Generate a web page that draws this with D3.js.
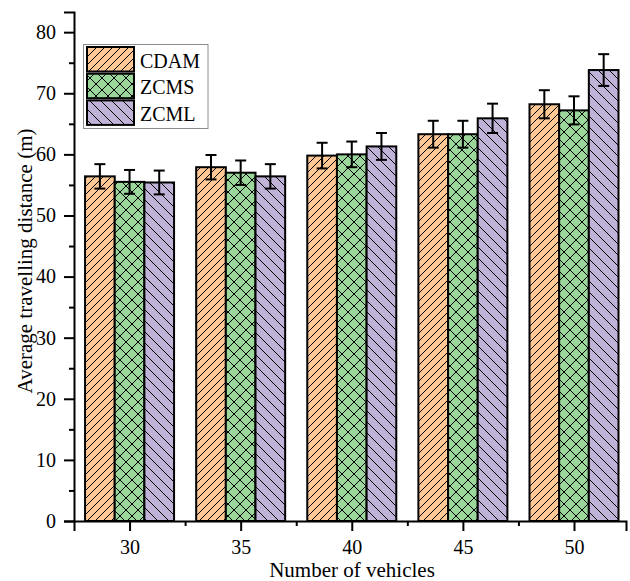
<!DOCTYPE html>
<html>
<head>
<meta charset="utf-8">
<script src="https://cdn.jsdelivr.net/npm/d3@7"></script>
<style>
  html, body { margin: 0; padding: 0; background: #fff; }
  svg text { font-family: "Liberation Serif", "Times New Roman", serif; fill: #000; }
</style>
</head>
<body>
<div id="chart"></div>
<script>
const vehicles = [30, 35, 40, 45, 50];
const seriesNames = ['CDAM', 'ZCMS', 'ZCML'];
const cdam = [56.4, 57.9, 59.8, 63.3, 68.2];
const zcms = [55.5, 57.0, 60.0, 63.3, 67.2];
const zcml = [55.4, 56.4, 61.3, 65.9, 73.8];
const cdamErr = [2.0, 2.0, 2.1, 2.2, 2.3];
const zcmsErr = [1.95, 2.0, 2.1, 2.2, 2.3];
const zcmlErr = [1.95, 2.0, 2.2, 2.4, 2.6];
const yTicks = [0, 10, 20, 30, 40, 50, 60, 70, 80];
const yMinor = [5, 15, 25, 35, 45, 55, 65, 75];
const xMinor = [32.5, 37.5, 42.5, 47.5];

const W = 630, H = 581;
const plotLeft = 74, plotRight = 626, plotTop = 12, plotBottom = 521;

const svg = d3.select('#chart').append('svg').attr('width', W).attr('height', H);

const x = d3.scaleLinear().domain([27.5, 52.34]).range([plotLeft, plotRight]);
const y = d3.scaleLinear().domain([0, 83.3]).range([plotBottom, plotTop]);
const inner = d3.scaleBand().domain(seriesNames).range([-44.5, 44.5]);

const fills = { CDAM: '#fdc895', ZCMS: '#9bd79b', ZCML: '#c1b2d8' };

// hatch patterns
const defs = svg.append('defs');
function hatch(id, color, size, dirs) {
  const p = defs.append('pattern').attr('id', id).attr('patternUnits', 'userSpaceOnUse')
    .attr('width', size).attr('height', size);
  p.append('rect').attr('width', size).attr('height', size).attr('fill', color);
  dirs.forEach(d => {
    const segs = d === '/'
      ? [[0, size, size, 0], [-size, size, 0, 0], [size, size * 2, size * 2, size]]
      : [[0, 0, size, size], [-size, 0, 0, size], [size, 0, size * 2, size]];
    segs.forEach(s => p.append('line').attr('x1', s[0]).attr('y1', s[1]).attr('x2', s[2]).attr('y2', s[3])
      .attr('stroke', '#000').attr('stroke-width', 1));
  });
}
hatch('pat-CDAM', fills.CDAM, 8, ['/']);
hatch('pat-ZCMS', fills.ZCMS, 12, ['/', '\\']);
hatch('pat-ZCML', fills.ZCML, 11, ['\\']);

const data = [];
vehicles.forEach((v, i) => {
  data.push({ v, s: 'CDAM', val: cdam[i], err: cdamErr[i] });
  data.push({ v, s: 'ZCMS', val: zcms[i], err: zcmsErr[i] });
  data.push({ v, s: 'ZCML', val: zcml[i], err: zcmlErr[i] });
});

// bars
svg.append('g').selectAll('rect').data(data).join('rect')
  .attr('x', d => x(d.v) + inner(d.s))
  .attr('y', d => y(d.val))
  .attr('width', inner.bandwidth())
  .attr('height', d => plotBottom - y(d.val))
  .attr('fill', d => `url(#pat-${d.s})`)
  .attr('stroke', '#000')
  .attr('stroke-width', 2);

// error bars
const eb = svg.append('g').attr('stroke', '#000').attr('stroke-width', 2);
data.forEach(d => {
  const cx = x(d.v) + inner(d.s) + inner.bandwidth() / 2;
  eb.append('line').attr('x1', cx).attr('x2', cx).attr('y1', y(d.val + d.err)).attr('y2', y(d.val - d.err));
  [d.val + d.err, d.val - d.err].forEach(e =>
    eb.append('line').attr('x1', cx - 5.5).attr('x2', cx + 5.5).attr('y1', y(e)).attr('y2', y(e)));
});

// axes
svg.append('g').attr('transform', `translate(0,${plotBottom})`)
  .call(d3.axisBottom(x).tickValues(vehicles).tickSize(10).tickPadding(9).tickFormat(d3.format('d')));
svg.append('g').attr('transform', `translate(0,${plotBottom})`)
  .call(d3.axisBottom(x).tickValues(xMinor).tickSize(5).tickFormat(''))
  .select('.domain').remove();
svg.append('g').attr('transform', `translate(${plotLeft},0)`)
  .call(d3.axisLeft(y).tickValues(yTicks).tickSize(10).tickPadding(8));
svg.append('g').attr('transform', `translate(${plotLeft},0)`)
  .call(d3.axisLeft(y).tickValues(yMinor).tickSize(5).tickFormat(''))
  .select('.domain').remove();

svg.selectAll('.domain').attr('stroke', '#000').attr('stroke-width', 2);
svg.selectAll('.tick line').attr('stroke', '#000').attr('stroke-width', 2);
svg.selectAll('.tick text').style('font-size', '20px').style('font-family', '"Liberation Serif", serif');

// titles
svg.append('text').attr('x', 352).attr('y', 577).attr('text-anchor', 'middle')
  .style('font-size', '21px').text('Number of vehicles');
svg.append('text').attr('transform', 'translate(32,261) rotate(-90)').attr('text-anchor', 'middle')
  .style('font-size', '21px').text('Average travelling distance (m)');

// legend
const lg = svg.append('g');
lg.append('rect').attr('x', 83.5).attr('y', 44.5).attr('width', 124.5).attr('height', 84)
  .attr('fill', '#fff').attr('stroke', '#8c8c8c').attr('stroke-width', 1);
seriesNames.forEach((s, i) => {
  const ry = 47 + i * 26.7;
  lg.append('rect').attr('x', 87).attr('y', ry).attr('width', 47).attr('height', 24.5)
    .attr('fill', `url(#pat-${s})`).attr('stroke', '#000').attr('stroke-width', 2);
  lg.append('text').attr('x', 140).attr('y', ry + 20.5).style('font-size', '20px').text(s);
});
</script>
</body>
</html>
